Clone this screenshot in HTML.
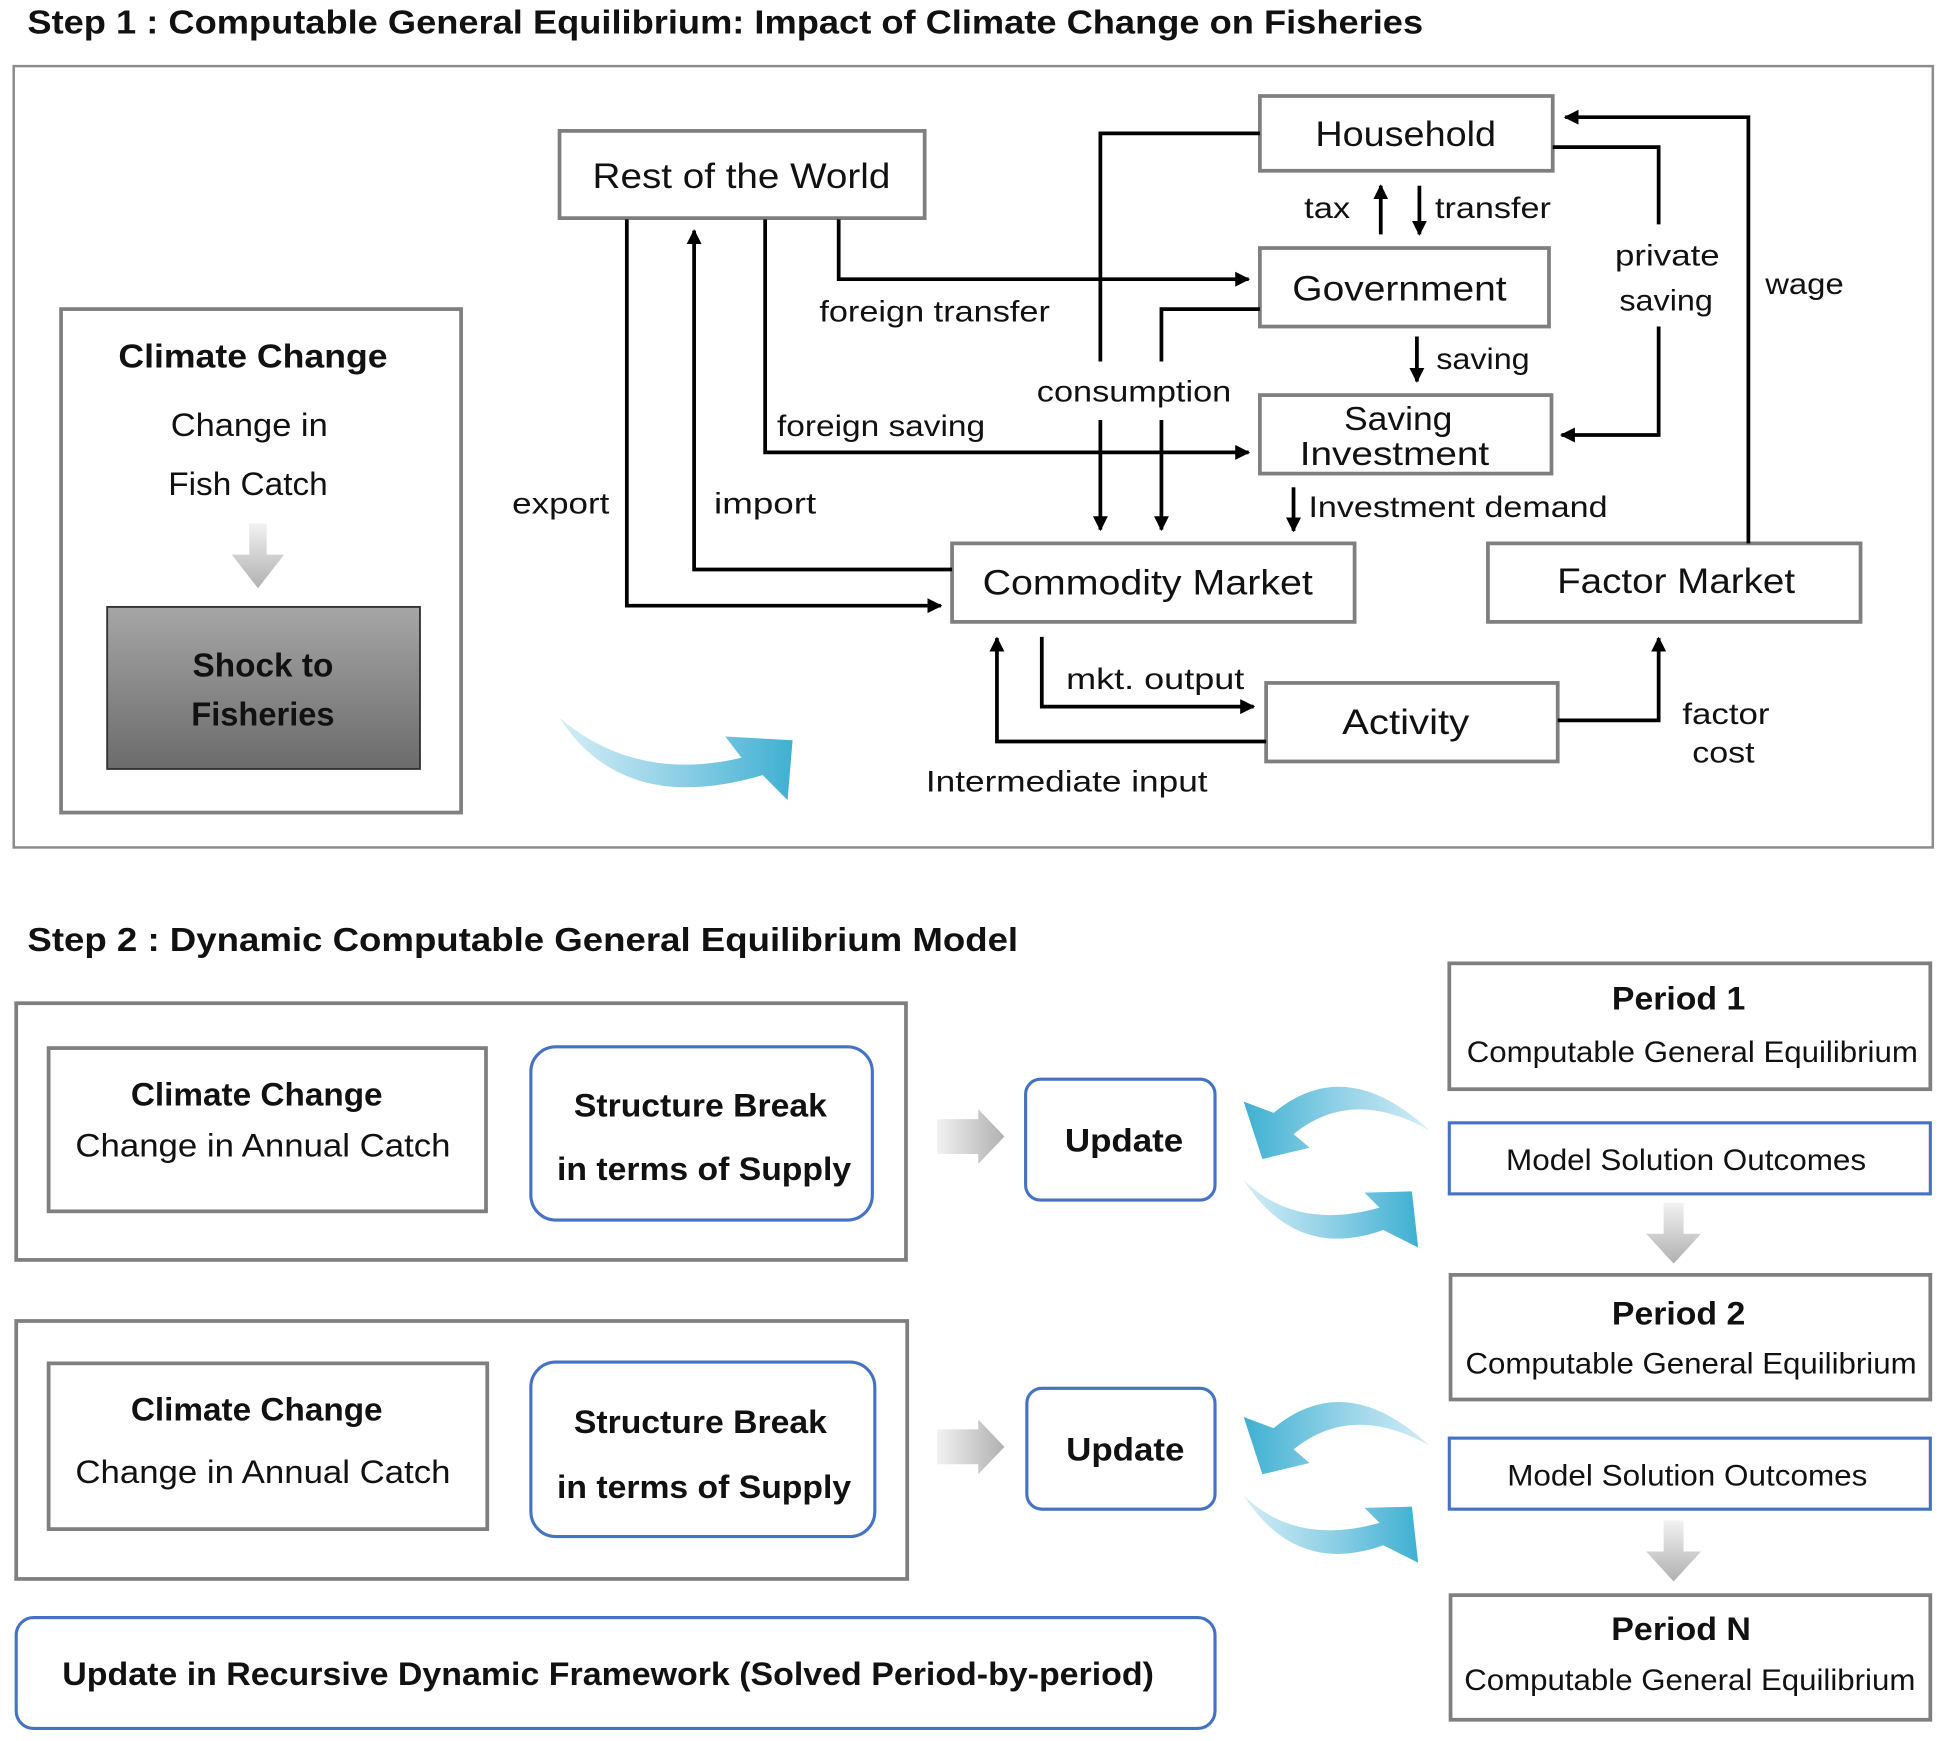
<!DOCTYPE html>
<html><head><meta charset="utf-8"><style>
html,body{margin:0;padding:0;background:#fff;}
svg{display:block;}
text{font-family:"Liberation Sans",sans-serif;fill:#111;}
.t{font-size:24px;}
.b{font-weight:bold;}
.c{text-anchor:middle;}
.box{fill:#fff;stroke:#7f7f7f;stroke-width:3;}
.ln{fill:none;stroke:#000;stroke-width:3;}
.blue{fill:#fff;stroke:#4472c4;stroke-width:2.5;}
</style></head><body>
<svg width="1954" height="1741" viewBox="0 0 1568 1397" xmlns="http://www.w3.org/2000/svg">
<defs>
<marker id="ah" viewBox="0 0 10 10" refX="9" refY="5" markerWidth="4" markerHeight="4" orient="auto-start-reverse"><path d="M0,0 L10,5 L0,10 z" fill="#000"/></marker>
<linearGradient id="sh" x1="0" y1="0" x2="0" y2="1"><stop offset="0" stop-color="#a6a6a6"/><stop offset="1" stop-color="#6b6b6b"/></linearGradient>
<linearGradient id="tl" x1="0" y1="0" x2="1" y2="0"><stop offset="0" stop-color="#d4eef6"/><stop offset="0.5" stop-color="#8fd0e6"/><stop offset="1" stop-color="#3fb0d2"/></linearGradient>
<linearGradient id="tr" x1="1" y1="0" x2="0" y2="0"><stop offset="0" stop-color="#d4eef6"/><stop offset="0.5" stop-color="#8fd0e6"/><stop offset="1" stop-color="#3fb0d2"/></linearGradient>
<linearGradient id="gd" x1="0" y1="0" x2="0" y2="1"><stop offset="0" stop-color="#f2f2f2"/><stop offset="1" stop-color="#b0b0b0"/></linearGradient>
<linearGradient id="gr" x1="0" y1="0" x2="1" y2="0"><stop offset="0" stop-color="#f2f2f2"/><stop offset="1" stop-color="#b0b0b0"/></linearGradient>
</defs>

<text x="22" y="27" class="b" style="font-size:27px" textLength="1120" lengthAdjust="spacingAndGlyphs">Step 1 : Computable General Equilibrium: Impact of Climate Change on Fisheries</text>
<rect x="11" y="53" width="1540" height="627" fill="#fff" stroke="#8c8c8c" stroke-width="2"/>

<rect x="49" y="248" width="321" height="404" class="box" stroke-width="2"/>
<text x="203" y="295" class="c b" style="font-size:27px" textLength="216" lengthAdjust="spacingAndGlyphs">Climate Change</text>
<text x="200" y="350" class="c" style="font-size:26px" textLength="126" lengthAdjust="spacingAndGlyphs">Change in</text>
<text x="199" y="397" class="c" style="font-size:26px" textLength="128" lengthAdjust="spacingAndGlyphs">Fish Catch</text>
<path d="M200,420 L214,420 L214,445 L228,445 L207,472 L186,445 L200,445 Z" fill="url(#gd)"/>
<rect x="86" y="487" width="251" height="130" fill="url(#sh)" stroke="#333" stroke-width="1.5"/>
<text x="211" y="543" class="c b" style="font-size:27px" textLength="113" lengthAdjust="spacingAndGlyphs">Shock to</text>
<text x="211" y="582" class="c b" style="font-size:27px" textLength="115" lengthAdjust="spacingAndGlyphs">Fisheries</text>

<path d="M449,576 Q510,628 595,608 L582,591 L636,594 L632,642 L612,622 Q500,655 449,576 Z" fill="url(#tl)"/>

<rect x="449" y="105" width="293" height="70" class="box"/>
<text x="595" y="151" class="c" style="font-size:28px" textLength="239" lengthAdjust="spacingAndGlyphs">Rest of the World</text>
<rect x="1011" y="77" width="235" height="60" class="box"/>
<text x="1128" y="117" class="c" style="font-size:28px" textLength="145" lengthAdjust="spacingAndGlyphs">Household</text>
<rect x="1011" y="199" width="232" height="63" class="box"/>
<text x="1123" y="241" class="c" style="font-size:28px" textLength="172" lengthAdjust="spacingAndGlyphs">Government</text>
<rect x="1011" y="317" width="234" height="63" class="box"/>
<text x="1122" y="345" class="c" style="font-size:27px" textLength="87" lengthAdjust="spacingAndGlyphs">Saving</text>
<text x="1119" y="373" class="c" style="font-size:27px" textLength="152" lengthAdjust="spacingAndGlyphs">Investment</text>
<rect x="764" y="436" width="323" height="63" class="box"/>
<text x="921" y="477" class="c" style="font-size:28px" textLength="265" lengthAdjust="spacingAndGlyphs">Commodity Market</text>
<rect x="1194" y="436" width="299" height="63" class="box"/>
<text x="1345" y="476" class="c" style="font-size:28px" textLength="191" lengthAdjust="spacingAndGlyphs">Factor Market</text>
<rect x="1016" y="548" width="234" height="63" class="box"/>
<text x="1128" y="589" class="c" style="font-size:28px" textLength="102" lengthAdjust="spacingAndGlyphs">Activity</text>

<path class="ln" d="M1011,107 L883,107 L883,290"/>
<path class="ln" d="M883,337 L883,425" marker-end="url(#ah)"/>
<path class="ln" d="M1011,248 L932,248 L932,290"/>
<path class="ln" d="M932,337 L932,425" marker-end="url(#ah)"/>
<path class="ln" d="M673,176 L673,224 L1002,224" marker-end="url(#ah)"/>
<path class="ln" d="M614,176 L614,363 L1002,363" marker-end="url(#ah)"/>
<path class="ln" d="M503,176 L503,486 L755,486" marker-end="url(#ah)"/>
<path class="ln" d="M764,457 L557,457 L557,185" marker-end="url(#ah)"/>
<path class="ln" d="M1108,188 L1108,149" marker-end="url(#ah)"/>
<path class="ln" d="M1139,149 L1139,188" marker-end="url(#ah)"/>
<path class="ln" d="M1137,270 L1137,306" marker-end="url(#ah)"/>
<path class="ln" d="M1038,391 L1038,426" marker-end="url(#ah)"/>
<path class="ln" d="M1246,118 L1331,118 L1331,180"/>
<path class="ln" d="M1331,262 L1331,349 L1253,349" marker-end="url(#ah)"/>
<path class="ln" d="M1403,436 L1403,94 L1256,94" marker-end="url(#ah)"/>
<path class="ln" d="M836,511 L836,567 L1006,567" marker-end="url(#ah)"/>
<path class="ln" d="M1016,595 L800,595 L800,512" marker-end="url(#ah)"/>
<path class="ln" d="M1250,578 L1331,578 L1331,512" marker-end="url(#ah)"/>

<g class="t">
<text x="750" y="258" class="c" textLength="185" lengthAdjust="spacingAndGlyphs">foreign transfer</text>
<text x="910" y="322" class="c" textLength="156" lengthAdjust="spacingAndGlyphs">consumption</text>
<text x="707" y="350" class="c" textLength="167" lengthAdjust="spacingAndGlyphs">foreign saving</text>
<text x="450" y="412" class="c" textLength="78" lengthAdjust="spacingAndGlyphs">export</text>
<text x="614" y="412" class="c" textLength="82" lengthAdjust="spacingAndGlyphs">import</text>
<text x="1065" y="175" class="c" textLength="37" lengthAdjust="spacingAndGlyphs">tax</text>
<text x="1198" y="175" class="c" textLength="93" lengthAdjust="spacingAndGlyphs">transfer</text>
<text x="1190" y="296" class="c" textLength="75" lengthAdjust="spacingAndGlyphs">saving</text>
<text x="1338" y="213" class="c" textLength="84" lengthAdjust="spacingAndGlyphs">private</text>
<text x="1337" y="249" class="c" textLength="75" lengthAdjust="spacingAndGlyphs">saving</text>
<text x="1448" y="236" class="c" textLength="63" lengthAdjust="spacingAndGlyphs">wage</text>
<text x="1170" y="415" class="c" textLength="240" lengthAdjust="spacingAndGlyphs">Investment demand</text>
<text x="927" y="553" class="c" textLength="143" lengthAdjust="spacingAndGlyphs">mkt. output</text>
<text x="856" y="635" class="c" textLength="226" lengthAdjust="spacingAndGlyphs">Intermediate input</text>
<text x="1385" y="581" class="c" textLength="70" lengthAdjust="spacingAndGlyphs">factor</text>
<text x="1383" y="612" class="c" textLength="50" lengthAdjust="spacingAndGlyphs">cost</text>
</g>

<text x="22" y="763" class="b" style="font-size:27px" textLength="795" lengthAdjust="spacingAndGlyphs">Step 2 : Dynamic Computable General Equilibrium Model</text>

<g>
<rect x="13" y="805" width="714" height="206" class="box" stroke-width="2"/>
<rect x="39" y="841" width="351" height="131" class="box" stroke-width="2"/>
<text x="206" y="887" class="c b" style="font-size:26px" textLength="202" lengthAdjust="spacingAndGlyphs">Climate Change</text>
<text x="211" y="928" class="c" style="font-size:26px" textLength="301" lengthAdjust="spacingAndGlyphs">Change in Annual Catch</text>
<rect x="426" y="840" width="274" height="139" rx="20" class="blue"/>
<text x="562" y="896" class="c b" style="font-size:26px" textLength="203" lengthAdjust="spacingAndGlyphs">Structure Break</text>
<text x="565" y="947" class="c b" style="font-size:26px" textLength="236" lengthAdjust="spacingAndGlyphs">in terms of Supply</text>
<path d="M752,898 L785,898 L785,890 L806,912 L785,934 L785,926 L752,926 Z" fill="url(#gr)"/>
<rect x="823" y="866" width="152" height="97" rx="12" class="blue"/>
<text x="902" y="924" class="c b" style="font-size:26px" textLength="95" lengthAdjust="spacingAndGlyphs">Update</text>
</g>
<g>
<rect x="13" y="1060" width="715" height="207" class="box" stroke-width="2"/>
<rect x="39" y="1094" width="352" height="133" class="box" stroke-width="2"/>
<text x="206" y="1140" class="c b" style="font-size:26px" textLength="202" lengthAdjust="spacingAndGlyphs">Climate Change</text>
<text x="211" y="1190" class="c" style="font-size:26px" textLength="301" lengthAdjust="spacingAndGlyphs">Change in Annual Catch</text>
<rect x="426" y="1093" width="276" height="140" rx="20" class="blue"/>
<text x="562" y="1150" class="c b" style="font-size:26px" textLength="203" lengthAdjust="spacingAndGlyphs">Structure Break</text>
<text x="565" y="1202" class="c b" style="font-size:26px" textLength="236" lengthAdjust="spacingAndGlyphs">in terms of Supply</text>
<path d="M752,1147 L785,1147 L785,1139 L806,1161 L785,1183 L785,1175 L752,1175 Z" fill="url(#gr)"/>
<rect x="824" y="1114" width="151" height="97" rx="12" class="blue"/>
<text x="903" y="1172" class="c b" style="font-size:26px" textLength="95" lengthAdjust="spacingAndGlyphs">Update</text>
</g>
<rect x="13" y="1298" width="962" height="89" rx="14" class="blue"/>
<text x="488" y="1352" class="c b" style="font-size:26px" textLength="876" lengthAdjust="spacingAndGlyphs">Update in Recursive Dynamic Framework (Solved Period-by-period)</text>

<rect x="1163" y="773" width="386" height="101" class="box" stroke-width="2"/>
<text x="1347" y="810" class="c b" style="font-size:26px" textLength="107" lengthAdjust="spacingAndGlyphs">Period 1</text>
<text x="1358" y="852" class="c" style="font-size:24px" textLength="362" lengthAdjust="spacingAndGlyphs">Computable General Equilibrium</text>
<rect x="1163" y="901" width="386" height="57" class="blue" stroke-width="2"/>
<text x="1353" y="939" class="c" style="font-size:24px" textLength="289" lengthAdjust="spacingAndGlyphs">Model Solution Outcomes</text>
<path d="M1335,965 L1351,965 L1351,990 L1365,990 L1343,1014 L1321,990 L1335,990 Z" fill="url(#gd)"/>
<rect x="1164" y="1023" width="385" height="100" class="box" stroke-width="2"/>
<text x="1347" y="1063" class="c b" style="font-size:26px" textLength="107" lengthAdjust="spacingAndGlyphs">Period 2</text>
<text x="1357" y="1102" class="c" style="font-size:24px" textLength="362" lengthAdjust="spacingAndGlyphs">Computable General Equilibrium</text>
<rect x="1163" y="1154" width="386" height="57" class="blue" stroke-width="2"/>
<text x="1354" y="1192" class="c" style="font-size:24px" textLength="289" lengthAdjust="spacingAndGlyphs">Model Solution Outcomes</text>
<path d="M1335,1220 L1351,1220 L1351,1245 L1365,1245 L1343,1269 L1321,1245 L1335,1245 Z" fill="url(#gd)"/>
<rect x="1164" y="1280" width="385" height="100" class="box" stroke-width="2"/>
<text x="1349" y="1316" class="c b" style="font-size:26px" textLength="112" lengthAdjust="spacingAndGlyphs">Period N</text>
<text x="1356" y="1356" class="c" style="font-size:24px" textLength="362" lengthAdjust="spacingAndGlyphs">Computable General Equilibrium</text>

<g id="cyc">
<path d="M1147,907 Q1080,845 1022,893 L998,884 L1013,930 L1051,921 L1038,910 Q1085,872 1147,907 Z" fill="url(#tr)"/>
<path d="M998,947 Q1040,1012 1110,987 L1138,1001 L1133,956 L1095,957 L1107,969 Q1040,988 998,947 Z" fill="url(#tl)"/>
</g>
<use href="#cyc" transform="translate(0,253)"/>
</svg>
</body></html>
